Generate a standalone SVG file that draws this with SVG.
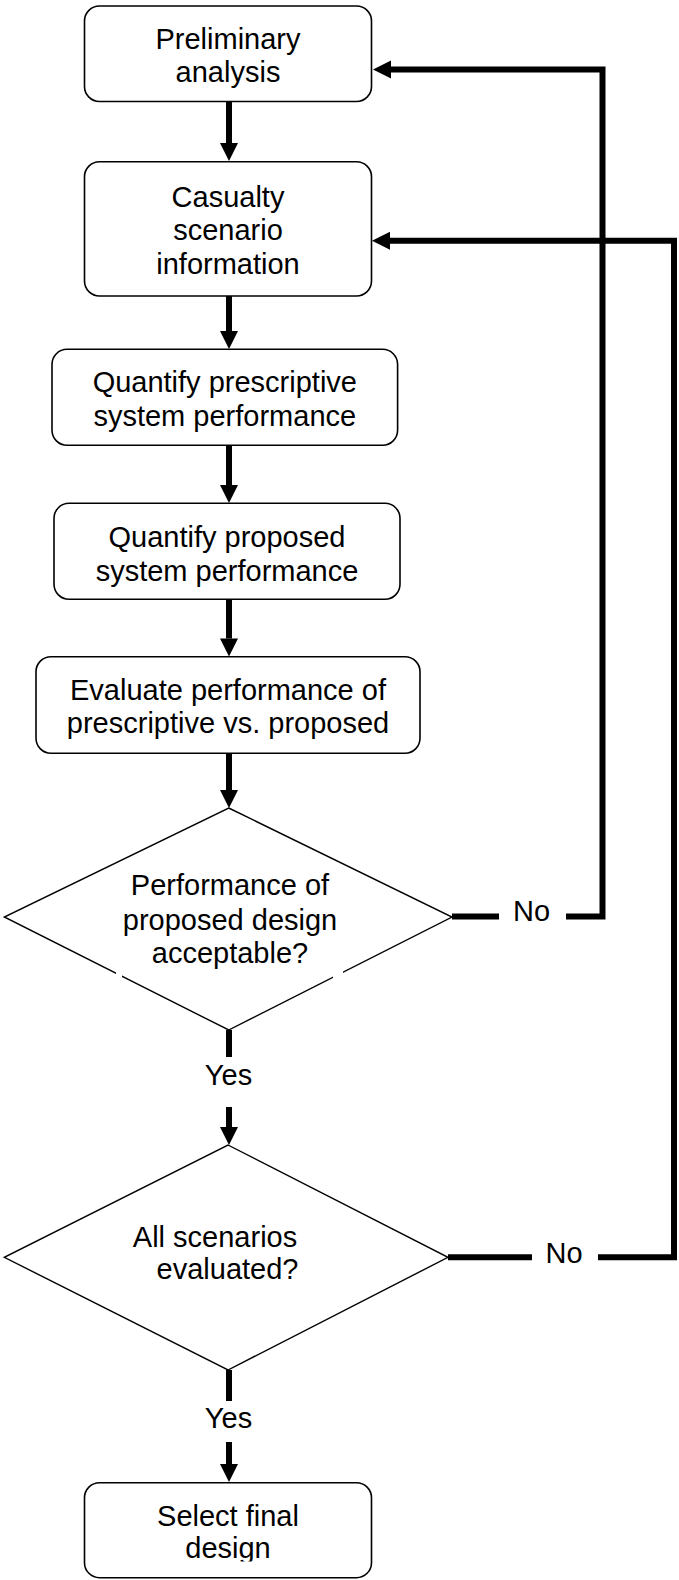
<svg xmlns="http://www.w3.org/2000/svg" width="679" height="1580" viewBox="0 0 679 1580">
<style>
  .box { fill: #fff; stroke: #000; stroke-width: 1.6; }
  .dia { fill: #fff; stroke: #000; stroke-width: 1.4; }
  .t { font-family: "Liberation Sans", Arial, sans-serif; font-size: 29px; fill: #000; text-anchor: middle; }
  .c { fill: none; stroke: #000; stroke-width: 6; stroke-linejoin: miter; stroke-linecap: butt; }
</style>
<defs>
  <marker id="ah" markerUnits="userSpaceOnUse" markerWidth="19" markerHeight="19" refX="0" refY="9" orient="auto" overflow="visible">
    <path d="M0,0 L18,9 L0,18 Z" fill="#000"/>
  </marker>
  <clipPath id="clipSel"><rect x="0" y="1480" width="679" height="81.5"/></clipPath>
</defs>

<g id="n1">
  <rect class="box" x="84.5" y="6" width="287" height="95.5" rx="15" ry="15"/>
  <text class="t" x="228" y="49.3">Preliminary</text>
  <text class="t" x="228" y="81.7">analysis</text>
</g>
<g id="n2">
  <rect class="box" x="84.5" y="161.7" width="287" height="134.3" rx="15" ry="15"/>
  <text class="t" x="228" y="206.7">Casualty</text>
  <text class="t" x="228" y="240">scenario</text>
  <text class="t" x="228" y="273.5">information</text>
</g>
<g id="n3">
  <rect class="box" x="52" y="349.3" width="345.6" height="96" rx="15" ry="15"/>
  <text class="t" x="224.8" y="392">Quantify prescriptive</text>
  <text class="t" x="224.8" y="425.5">system performance</text>
</g>
<g id="n4">
  <rect class="box" x="54" y="503.3" width="346" height="96" rx="15" ry="15"/>
  <text class="t" x="227" y="546.7">Quantify proposed</text>
  <text class="t" x="227" y="580.5">system performance</text>
</g>
<g id="n5">
  <rect class="box" x="36" y="656.7" width="384" height="96.6" rx="15" ry="15"/>
  <text class="t" x="228" y="700">Evaluate performance of</text>
  <text class="t" x="228" y="733">prescriptive vs. proposed</text>
</g>
<g id="d1">
  <polygon class="dia" points="228.7,808 452,917 228.7,1030 4.3,917"/>
  <text class="t" x="230" y="895">Performance of</text>
  <text class="t" x="230" y="929.5">proposed design</text>
  <text class="t" x="230" y="963">acceptable?</text>
  <rect x="116" y="970" width="6" height="9" fill="#fff"/>
  <rect x="333" y="969" width="10" height="10" fill="#fff"/>
</g>
<g id="d2">
  <polygon class="dia" points="228,1145 448,1257.3 228,1370 4.3,1257.3"/>
  <text class="t" x="215" y="1246.7">All scenarios</text>
  <text class="t" x="227.5" y="1279.3">evaluated?</text>
</g>
<g id="n6">
  <rect class="box" x="84.5" y="1482.7" width="287" height="95" rx="15" ry="15"/>
  <text class="t" x="228" y="1525.7">Select final</text>
  <text class="t" x="228" y="1558.3" clip-path="url(#clipSel)">design</text>
</g>

<g id="connectors">
  <line class="c" x1="229" y1="102" x2="229" y2="143" marker-end="url(#ah)"/>
  <line class="c" x1="229" y1="296" x2="229" y2="331" marker-end="url(#ah)"/>
  <line class="c" x1="229" y1="446" x2="229" y2="485" marker-end="url(#ah)"/>
  <line class="c" x1="229" y1="600" x2="229" y2="638.5" marker-end="url(#ah)"/>
  <line class="c" x1="229" y1="754" x2="229" y2="790" marker-end="url(#ah)"/>
  <line class="c" x1="229" y1="1030" x2="229" y2="1057"/>
  <text class="t" x="228.5" y="1085">Yes</text>
  <line class="c" x1="229" y1="1107" x2="229" y2="1127" marker-end="url(#ah)"/>
  <line class="c" x1="229" y1="1370" x2="229" y2="1401"/>
  <text class="t" x="228.5" y="1428.3">Yes</text>
  <line class="c" x1="229" y1="1442" x2="229" y2="1464" marker-end="url(#ah)"/>
  <line class="c" x1="452" y1="916.5" x2="499" y2="916.5"/>
  <text class="t" x="531.5" y="921">No</text>
  <path class="c" d="M566,916.5 H602.5 V69.5 H391" marker-end="url(#ah)"/>
  <line class="c" x1="448" y1="1257.3" x2="532" y2="1257.3"/>
  <text class="t" x="564" y="1263.3">No</text>
  <path class="c" d="M598,1257.3 H674 V240.7 H390" marker-end="url(#ah)"/>
</g>
</svg>
